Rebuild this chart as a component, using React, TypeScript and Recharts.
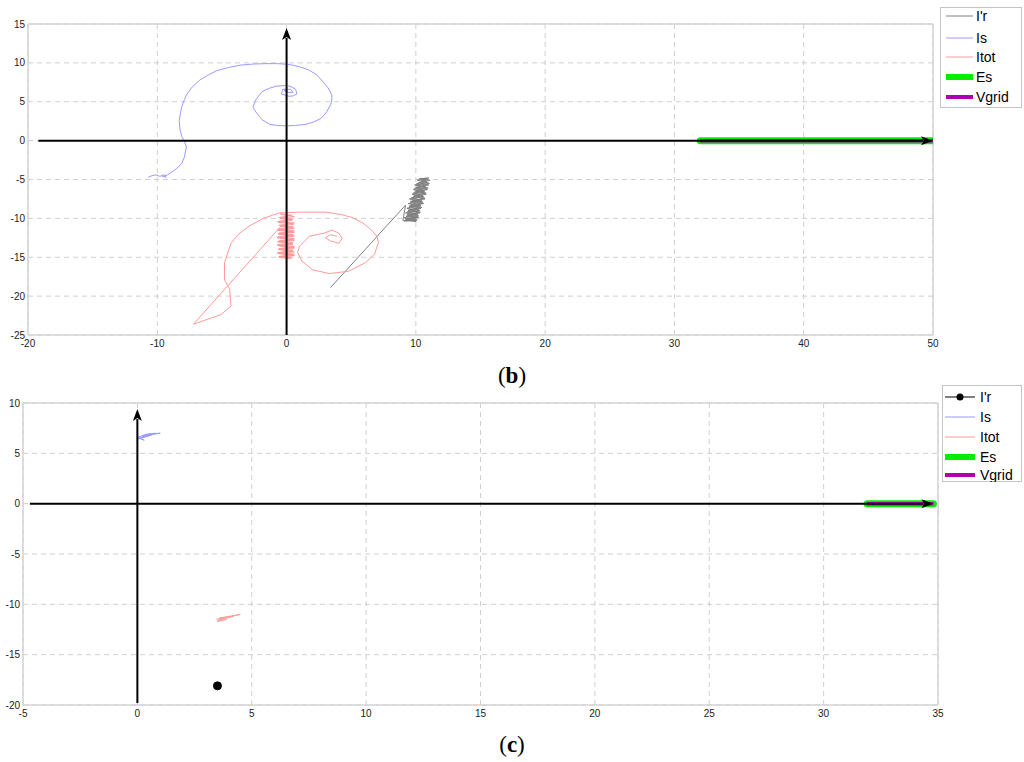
import React from 'react';
import { ComposedChart, Line, XAxis, YAxis, CartesianGrid, ReferenceLine } from 'recharts';

// ---------- tick labels ----------
const xTicksB = [-20, -10, 0, 10, 20, 30, 40, 50];
const yTicksB = [-25, -20, -15, -10, -5, 0, 5, 10, 15];
const xTicksC = [-5, 0, 5, 10, 15, 20, 25, 30, 35];
const yTicksC = [-20, -15, -10, -5, 0, 5, 10];

const seriesNames = ["I'r", 'Is', 'Itot', 'Es', 'Vgrid'];

// ---------- panel (b) series ----------
const irB: number[][] = [
  [3.4, -18.9], [9.2, -8.3],
  [9.0, -10.3], [10.1, -10.2], [9.1, -9.9], [10.2, -9.6], [9.2, -9.3], [10.3, -9.0], [9.3, -8.7], [10.4, -8.4],
  [9.4, -8.1], [10.5, -7.8], [9.5, -7.5], [10.6, -7.2], [9.7, -6.9], [10.7, -6.6], [9.8, -6.3], [10.8, -6.0],
  [9.9, -5.7], [10.9, -5.4], [10.1, -5.1], [11.0, -4.8], [10.3, -4.9], [11.1, -5.1], [10.2, -5.4], [11.0, -5.7],
  [10.0, -6.0], [10.9, -6.3], [9.9, -6.6], [10.8, -6.9], [9.8, -7.2], [10.7, -7.5], [9.6, -7.8], [10.6, -8.1],
  [9.5, -8.4], [10.4, -8.7], [9.4, -9.0], [10.3, -9.3], [9.3, -9.6], [10.2, -9.9], [9.2, -10.2], [10.0, -10.4],
  [9.3, -10.15], [10.0, -9.95], [9.25, -9.75], [10.15, -9.45], [9.35, -9.15], [10.25, -8.85], [9.45, -8.55],
  [10.35, -8.25], [9.55, -7.95], [10.45, -7.65], [9.65, -7.35], [10.55, -7.05], [9.8, -6.75], [10.65, -6.45],
  [9.9, -6.15], [10.75, -5.85], [10.05, -5.55], [10.85, -5.25], [10.25, -4.95], [10.7, -4.85],
  [10.9, -5.0], [10.4, -5.2], [11.05, -5.5], [10.1, -5.8], [10.95, -6.1], [10.0, -6.45], [10.8, -6.75],
  [9.85, -7.05], [10.7, -7.4], [9.75, -7.7], [10.55, -8.0], [9.6, -8.3], [10.45, -8.6], [9.45, -8.9],
  [10.35, -9.2], [9.35, -9.5], [10.2, -9.8], [9.15, -10.05], [10.05, -10.3], [9.1, -10.35],
];
const isB: number[][] = [
  [-10.7, -4.7], [-10.4, -4.5], [-10.1, -4.4], [-9.8, -4.6], [-9.5, -4.4], [-9.3, -4.7], [-9.6, -4.6], [-9.2, -4.4],
  [-8.5, -3.6], [-8.1, -2.9], [-7.9, -2.1], [-7.75, -0.8], [-7.9, -0.1], [-8.1, 0.5], [-8.25, 1.5], [-8.3, 2.6],
  [-8.2, 3.6], [-8.1, 4.4], [-7.9, 5.3], [-7.7, 6.0], [-7.3, 6.9], [-6.7, 7.8], [-6.1, 8.4], [-5.4, 9.0],
  [-4.5, 9.4], [-3.6, 9.7], [-2.6, 9.85], [-1.6, 9.9], [-0.7, 9.9], [0.2, 9.8], [1.0, 9.5], [1.7, 9.1],
  [2.3, 8.5], [2.8, 7.6], [3.2, 6.8], [3.5, 5.9], [3.5, 5.2], [3.4, 4.6], [3.1, 3.7], [2.7, 2.9], [2.1, 2.4],
  [1.5, 2.1], [0.7, 1.95], [0, 1.9], [-0.7, 1.95], [-1.3, 2.1], [-1.9, 2.7], [-2.3, 3.5], [-2.6, 4.3],
  [-2.4, 5.2], [-1.9, 6.3], [-1.4, 6.7], [-0.8, 7.0], [0, 7.1], [0.4, 6.9], [0.7, 6.6], [0.8, 6.0], [0.5, 5.75],
  [0.2, 5.7], [-0.4, 6.0], [-0.3, 6.6], [0.3, 6.6], [0.5, 6.2], [0, 6.2], [-0.2, 6.5], [0.1, 6.4],
];
const itotB: number[][] = [
  [0.3, -15.2], [-0.6, -15.0], [0.6, -14.75], [-0.5, -14.5], [0.5, -14.25], [-0.65, -14.0], [0.6, -13.75],
  [-0.55, -13.5], [0.45, -13.25], [-0.7, -13.0], [0.55, -12.75], [-0.5, -12.5], [0.6, -12.25], [-0.65, -12.0],
  [0.45, -11.75], [-0.6, -11.5], [0.6, -11.25], [-0.5, -11.0], [0.55, -10.75], [-0.65, -10.5], [0.4, -10.25],
  [-0.5, -10.0], [0.6, -9.75], [-0.4, -9.5],
  [-0.5, -9.4], [0.4, -9.6], [-0.6, -9.9], [0.5, -10.1], [-0.7, -10.4], [0.6, -10.6], [-0.6, -10.9], [0.5, -11.1],
  [-0.7, -11.4], [0.6, -11.6], [-0.6, -11.9], [0.5, -12.1], [-0.7, -12.4], [0.6, -12.6], [-0.6, -12.9], [0.5, -13.1],
  [-0.7, -13.4], [0.6, -13.6], [-0.6, -13.9], [0.5, -14.1], [-0.7, -14.4], [0.6, -14.6], [-0.6, -14.9], [0.4, -15.1],
  [-0.5, -15.0], [0.5, -14.8], [-0.7, -14.5], [0.6, -14.3], [-0.5, -14.0], [0.6, -13.8], [-0.7, -13.5], [0.5, -13.3],
  [-0.6, -13.0], [0.6, -12.8], [-0.7, -12.5], [0.5, -12.3], [-0.6, -12.0], [0.6, -11.8], [-0.7, -11.5], [0.5, -11.3],
  [-0.43, -11.0],
  [-7.2, -23.6], [-5.1, -22.4], [-4.3, -21.3], [-4.4, -19.1], [-4.8, -17.9], [-4.8, -15.7], [-4.3, -13.2],
  [-3.7, -12.0], [-2.9, -11.0], [-1.8, -10.0], [-0.6, -9.3], [1.0, -9.2], [3.0, -9.2], [4.2, -9.5], [5.1, -9.9],
  [5.9, -10.6], [6.5, -11.4], [7.0, -12.3], [7.1, -13.1], [6.8, -14.6], [6.1, -15.7], [4.8, -16.8], [3.3, -17.1],
  [2.0, -16.6], [1.2, -15.5], [0.85, -14.4], [1.0, -13.6], [1.75, -12.3], [2.9, -11.9], [3.5, -11.5],
  [4.05, -11.9], [4.3, -12.6], [4.05, -13.2], [3.4, -12.9], [3.0, -12.5], [3.4, -12.1], [3.9, -12.3],
];
const esB: number[][] = [[32, 0], [50, 0]];
const vgridB: number[][] = [[32, 0], [50, 0]];
const hArrowB: number[][] = [[-19.2, 0], [50, 0]];
const vArrowB: number[][] = [[0, -25], [0, 14.5]];

// ---------- panel (c) series ----------
const irC: number[][] = [[3.5, -18.1]];
const isC: number[][] = [
  [0.0, 6.4], [0.3, 6.6], [0.7, 6.9], [1.0, 7.0], [0.5, 6.9], [0.2, 6.7], [0.6, 6.8], [0.1, 6.5],
  [0.3, 6.3], [0.0, 6.6], [0.4, 6.9], [0.8, 7.0], [0.35, 6.75], [0.05, 6.45],
];
const itotC: number[][] = [
  [3.5, -11.6], [3.9, -11.3], [4.3, -11.1], [4.5, -11.0], [4.0, -11.2], [3.6, -11.4], [3.9, -11.5], [3.5, -11.7],
  [3.8, -11.4], [4.2, -11.2], [3.7, -11.3], [3.45, -11.5],
];
const esC: number[][] = [[31.9, 0], [34.8, 0]];
const vgridC: number[][] = [[31.9, 0], [34.8, 0]];
const hArrowC: number[][] = [[-4.7, 0], [34.8, 0]];
const vArrowC: number[][] = [[0, -19.8], [0, 9.4]];

const toPts = (a: number[][]) => a.map(([x, y]) => ({ x, y }));

const COLORS = {
  irB: '#808080',
  irC: '#000000',
  is: '#9a9aff',
  itot: '#ff9a9a',
  es: '#00ee00',
  vgrid: '#b000b0',
};

const tickStyle = { fontSize: 10, fill: '#222', fontFamily: 'Liberation Sans, Arial, sans-serif' };

const ArrowShape = (props: any) => {
  const { x1, y1, x2, y2 } = props;
  const dx = x2 - x1;
  const dy = y2 - y1;
  const len = Math.sqrt(dx * dx + dy * dy) || 1;
  const ux = dx / len;
  const uy = dy / len;
  const L = 12;
  const W = 4.5;
  const bx = x2 - ux * L;
  const by = y2 - uy * L;
  const px = -uy;
  const py = ux;
  return (
    <g>
      <line x1={x1} y1={y1} x2={bx + ux * 2} y2={by + uy * 2} stroke="#000" strokeWidth={2} />
      <polygon
        points={`${x2},${y2} ${bx + px * W},${by + py * W} ${bx + ux * 3},${by + uy * 3} ${bx - px * W},${by - py * W}`}
        fill="#000"
      />
    </g>
  );
};

type PanelProps = {
  width: number;
  height: number;
  margin: { top: number; right: number; bottom: number; left: number };
  yWidth: number;
  xDomain: number[];
  yDomain: number[];
  xTicks: number[];
  yTicks: number[];
  ir: number[][];
  is: number[][];
  itot: number[][];
  es: number[][];
  vgrid: number[][];
  hArrow: number[][];
  vArrow: number[][];
  irColor: string;
  irDot: boolean;
};

const Panel = (p: PanelProps) => (
  <ComposedChart width={p.width} height={p.height} margin={p.margin}>
    <CartesianGrid strokeDasharray="5 4" stroke="#cfcfcf" />
    <XAxis
      type="number"
      dataKey="x"
      domain={p.xDomain}
      ticks={p.xTicks}
      allowDataOverflow
      axisLine={false}
      tickLine={false}
      tickSize={0}
      tickMargin={5}
      height={20}
      tick={tickStyle}
      interval={0}
    />
    <YAxis
      type="number"
      dataKey="y"
      domain={p.yDomain}
      ticks={p.yTicks}
      allowDataOverflow
      axisLine={false}
      tickLine={false}
      tickSize={0}
      tickMargin={3}
      width={p.yWidth}
      tick={tickStyle}
      interval={0}
    />
    <ReferenceLine x={p.xDomain[0]} stroke="#d4d4d4" strokeWidth={1.5} />
    <ReferenceLine x={p.xDomain[1]} stroke="#d4d4d4" strokeWidth={1.5} />
    <ReferenceLine y={p.yDomain[0]} stroke="#d4d4d4" strokeWidth={1.5} />
    <ReferenceLine y={p.yDomain[1]} stroke="#d4d4d4" strokeWidth={1.5} />
    <Line
      data={toPts(p.ir)}
      dataKey="y"
      name={seriesNames[0]}
      stroke={p.irColor}
      strokeWidth={1}
      dot={p.irDot ? { r: 4, fill: '#000', stroke: '#000' } : false}
      isAnimationActive={false}
      type="linear"
    />
    <Line data={toPts(p.is)} dataKey="y" name={seriesNames[1]} stroke={COLORS.is} strokeWidth={1} dot={false} isAnimationActive={false} type="linear" />
    <Line data={toPts(p.itot)} dataKey="y" name={seriesNames[2]} stroke={COLORS.itot} strokeWidth={1} dot={false} isAnimationActive={false} type="linear" />
    <Line data={toPts(p.es)} dataKey="y" name={seriesNames[3]} stroke={COLORS.es} strokeWidth={7} dot={false} isAnimationActive={false} type="linear" strokeLinecap="round" />
    <Line data={toPts(p.vgrid)} dataKey="y" name={seriesNames[4]} stroke={COLORS.vgrid} strokeWidth={3.5} dot={false} isAnimationActive={false} type="linear" />
    <ReferenceLine
      segment={[{ x: p.hArrow[0][0], y: p.hArrow[0][1] }, { x: p.hArrow[1][0], y: p.hArrow[1][1] }]}
      shape={ArrowShape}
      ifOverflow="visible"
    />
    <ReferenceLine
      segment={[{ x: p.vArrow[0][0], y: p.vArrow[0][1] }, { x: p.vArrow[1][0], y: p.vArrow[1][1] }]}
      shape={ArrowShape}
      ifOverflow="visible"
    />
  </ComposedChart>
);

const LegendBox = ({ left, top, width, height, rows, irColor, irDot, lineX1, lineX2, textX }: any) => {
  const styles = [
    { c: irColor, w: 1 },
    { c: COLORS.is, w: 1 },
    { c: COLORS.itot, w: 1 },
    { c: COLORS.es, w: 6 },
    { c: COLORS.vgrid, w: 4 },
  ];
  return (
    <svg style={{ position: 'absolute', left, top }} width={width} height={height}>
      <rect x={0.5} y={0.5} width={width - 1} height={height - 1} fill="#fff" stroke="#c4c4c4" />
      {seriesNames.map((n, i) => (
        <g key={n}>
          <line x1={lineX1} x2={lineX2} y1={rows[i]} y2={rows[i]} stroke={styles[i].c} strokeWidth={styles[i].w} />
          {i === 0 && irDot ? <circle cx={(lineX1 + lineX2) / 2} cy={rows[i]} r={3.5} fill="#000" /> : null}
          <text x={textX} y={rows[i] + 5} fontSize={14} fontFamily="Liberation Sans, Arial, sans-serif" fill="#000">
            {n}
          </text>
        </g>
      ))}
    </svg>
  );
};

const Caption = ({ top, letter }: { top: number; letter: string }) => (
  <div
    style={{
      position: 'absolute',
      left: 0,
      top,
      width: 1024,
      textAlign: 'center',
      fontFamily: 'Liberation Serif, Times New Roman, serif',
      fontSize: 23,
      lineHeight: '24px',
      color: '#000',
    }}
  >
    (<b>{letter}</b>)
  </div>
);

export default function App() {
  return (
    <div style={{ position: 'absolute', left: 0, top: 0, width: 1024, height: 762, background: '#fff', overflow: 'hidden' }}>
      <div style={{ position: 'absolute', left: 0, top: 0 }}>
        <Panel
          width={1024}
          height={360}
          margin={{ top: 24, right: 91, bottom: 5, left: 0 }}
          yWidth={28}
          xDomain={[-20, 50]}
          yDomain={[-25, 15]}
          xTicks={xTicksB}
          yTicks={yTicksB}
          ir={irB}
          is={isB}
          itot={itotB}
          es={esB}
          vgrid={vgridB}
          hArrow={hArrowB}
          vArrow={vArrowB}
          irColor={COLORS.irB}
          irDot={false}
        />
      </div>
      <LegendBox left={940} top={7} width={82} height={101} rows={[9, 31, 50, 70, 90]} irColor={COLORS.irB} irDot={false} lineX1={6} lineX2={33} textX={36} />
      <Caption top={364} letter="b" />
      <div style={{ position: 'absolute', left: 0, top: 380 }}>
        <Panel
          width={1024}
          height={350}
          margin={{ top: 23, right: 86, bottom: 5, left: 0 }}
          yWidth={23}
          xDomain={[-5, 35]}
          yDomain={[-20, 10]}
          xTicks={xTicksC}
          yTicks={yTicksC}
          ir={irC}
          is={isC}
          itot={itotC}
          es={esC}
          vgrid={vgridC}
          hArrow={hArrowC}
          vArrow={vArrowC}
          irColor={COLORS.irC}
          irDot={true}
        />
      </div>
      <LegendBox left={942} top={385} width={80} height={97} rows={[12, 32, 52, 72, 90]} irColor={COLORS.irC} irDot={true} lineX1={3} lineX2={33} textX={38} />
      <Caption top={733} letter="c" />
    </div>
  );
}
